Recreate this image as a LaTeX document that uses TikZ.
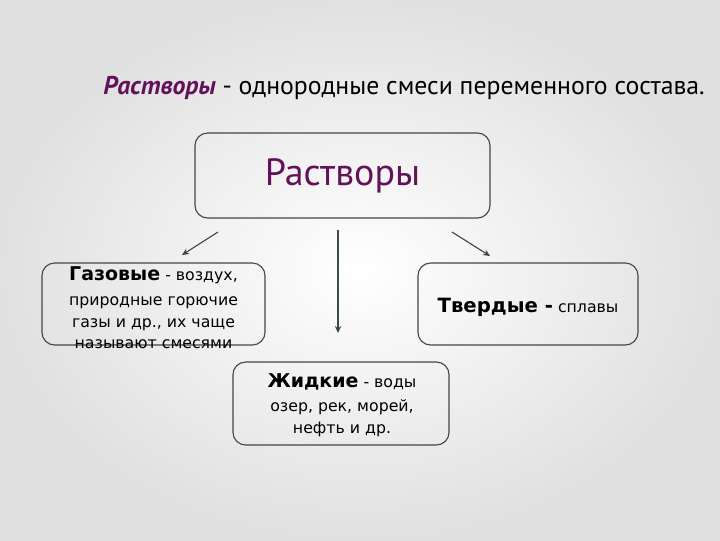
\documentclass[tikz,border=0pt]{standalone}
\usepackage{fontspec}
\setmainfont{DejaVu Sans}
\newfontfamily\titlefont{PT Sans}
\usepackage{xcolor}
\usetikzlibrary{arrows.meta}
\definecolor{rastvor}{RGB}{98,18,88}
\definecolor{framegreen}{RGB}{60,76,60}

\begin{document}
\begin{tikzpicture}[x=0.025cm, y=-0.025cm,
    box/.style={draw=framegreen, line width=0.8pt, rounded corners=9pt, inner sep=0pt},
    boxtext/.style={align=center, font=\fontsize{11.2}{15.5}\selectfont, inner sep=0pt},
    arr/.style={draw=framegreen, line width=0.8pt, -{Stealth[length=5pt, width=4.5pt]}}]
    % Fond
    \shade[inner color=white, outer color=gray!24] (0,0) rectangle (720,540);
    \useasboundingbox (0,0) rectangle (720,540);

    % Titre
    \node[anchor=base west, inner sep=0pt, font=\titlefont\fontsize{18.3}{20}\selectfont] (title) at (103,94)
        {\textcolor{rastvor}{\bfseries\itshape Растворы} - однородные смеси переменного состава.};

    % Blocs
    \node[box, minimum width=7.375cm, minimum height=2.125cm,
          font=\titlefont\fontsize{27}{30}\selectfont, text=rastvor] (top) at (342.5,175.5) {Растворы};
    \node[box, minimum width=5.575cm, minimum height=2.05cm] (gas) at (153.5,304) {};
    \node[box, minimum width=5.5cm, minimum height=2.05cm] (solid) at (528,304) {};
    \node[box, minimum width=5.4cm, minimum height=2.075cm] (liquid) at (341,403.5) {};

    % Textes
    \node[boxtext] (gastext) at (153.5,308)
        {{\fontsize{13.5}{15}\selectfont\bfseries Газовые} - воздух,\\[2pt]
         природные горючие\\газы и др., их чаще\\называют смесями};
    \node[boxtext] (solidtext) at (528,307)
        {{\fontsize{14}{15}\selectfont\bfseries Твердые -} сплавы};
    \node[boxtext] (liquidtext) at (342,405)
        {{\fontsize{13.5}{15}\selectfont\bfseries Жидкие} - воды\\[2pt]
         озер, рек, морей,\\нефть и др.};

    % Fleches
    \coordinate (l1) at (218,232);
    \coordinate (l2) at (182,255);
    \coordinate (m1) at (338,230);
    \coordinate (m2) at (338,333);
    \coordinate (r1) at (452,232);
    \coordinate (r2) at (490,256);
    \draw[arr] (l1) -- (l2);
    \draw[arr] (m1) -- (m2);
    \draw[arr] (r1) -- (r2);
\end{tikzpicture}
\end{document}
